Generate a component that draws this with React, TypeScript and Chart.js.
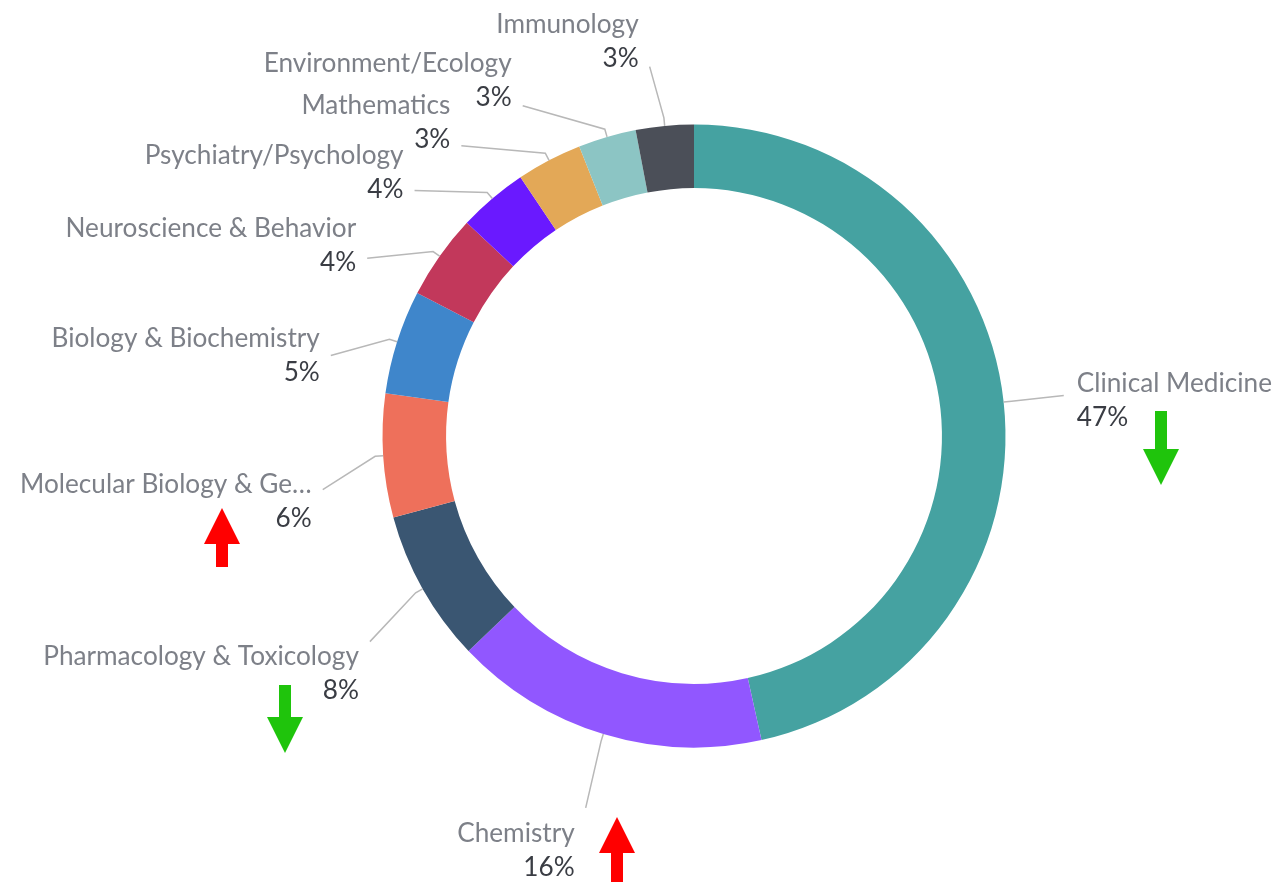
import React, { useEffect, useRef } from 'react';
import { Chart, registerables } from 'chart.js';

Chart.register(...registerables);

// ---- data ----
const categories: string[] = [
  'Clinical Medicine',
  'Chemistry',
  'Pharmacology & Toxicology',
  'Molecular Biology & Genetics',
  'Biology & Biochemistry',
  'Neuroscience & Behavior',
  'Psychiatry/Psychology',
  'Mathematics',
  'Environment/Ecology',
  'Immunology',
];
const shares: number[] = [46.5, 16.35, 7.9, 6.4, 5.4, 4.4, 3.6, 3.4, 3.0, 3.0];
const trends: (string | null)[] = ['down', 'up', 'down', 'up', null, null, null, null, null, null];

// ---- styles / layout ----
const sliceColors: string[] = [
  '#45a2a1', '#9157ff', '#3a5672', '#ee705b', '#3f86cb',
  '#c2385b', '#6a19ff', '#e3a857', '#8cc5c4', '#4b4f58',
];
const labelShiftY: number[] = [0, 16, 23, 30, 32, 37, 38, 39, 27, 1];
const nameOffsetY: number[] = [-3, 34, 23, 3, -8, -21, -26, -32, -34, -34];
const arrowLayout: ({ x: number; top: number; len: number } | null)[] = [
  { x: 1161, top: 411, len: 74 },
  { x: 617, top: 817, len: 66 },
  { x: 285, top: 685, len: 68 },
  { x: 222, top: 508, len: 59 },
  null, null, null, null, null, null,
];
const FONT_FAMILY = 'Lato, "Noto Sans", sans-serif';
const FONT_SIZE = 26.2;

const labelPlugin = {
  id: 'sliceLabels',
  afterDraw(chart: any) {
    const ctx: CanvasRenderingContext2D = chart.ctx;
    const meta = chart.getDatasetMeta(0);
    const total = shares.reduce((a, b) => a + b, 0);
    ctx.save();
    meta.data.forEach((arc: any, i: number) => {
      const p = arc.getProps(['x', 'y', 'startAngle', 'endAngle', 'outerRadius'], true);
      const cx = p.x, cy = p.y, R = p.outerRadius;
      const mid = (p.startAngle + p.endAngle) / 2;
      const cos = Math.cos(mid), sin = Math.sin(mid);
      const lr = R + 60.5;
      const side = cos >= 0 ? 1 : -1;
      const natX = cos * lr;
      const ay = cy + sin * lr + labelShiftY[i];
      const dy = ay - cy;
      const circ = Math.sqrt(Math.max(lr * lr - dy * dy, 0));
      const ax = cx + side * Math.max(Math.abs(natX), circ);

      // connector
      ctx.beginPath();
      ctx.moveTo(cx + cos * R, cy + sin * R);
      ctx.lineTo(cx + cos * (R + 8), cy + sin * (R + 8));
      ctx.lineTo(ax, ay);
      ctx.strokeStyle = '#b8b8b8';
      ctx.lineWidth = 1.5;
      ctx.stroke();

      // text
      const tx = side > 0 ? ax + 13 : ax - 11;
      ctx.textAlign = side > 0 ? 'left' : 'right';
      ctx.textBaseline = 'alphabetic';
      ctx.font = `${FONT_SIZE}px ${FONT_FAMILY}`;
      let name = categories[i];
      const maxW = side > 0 ? chart.width - tx - 1 : tx - 16;
      if (ctx.measureText(name).width > maxW) {
        while (name.length > 1 && ctx.measureText(name + '…').width > maxW) {
          name = name.slice(0, -1);
        }
        name = name.trimEnd() + '…';
      }
      const nameY = ay + nameOffsetY[i];
      ctx.fillStyle = '#7d8088';
      ctx.fillText(name, tx, nameY);
      ctx.fillStyle = '#3a3d44';
      ctx.fillText(Math.round((shares[i] / total) * 100) + '%', tx, nameY + 34);

      // trend arrow
      const t = trends[i];
      const a = arrowLayout[i];
      if (t && a) {
        const headH = 36, headW = 36, shaftW = 12;
        ctx.fillStyle = t === 'up' ? '#ff0000' : '#1fc40c';
        ctx.beginPath();
        if (t === 'down') {
          const hb = a.top + a.len - headH;
          ctx.rect(a.x - shaftW / 2, a.top, shaftW, hb - a.top + 0.5);
          ctx.moveTo(a.x - headW / 2, hb);
          ctx.lineTo(a.x + headW / 2, hb);
          ctx.lineTo(a.x, a.top + a.len);
        } else {
          const hb = a.top + headH;
          ctx.moveTo(a.x, a.top);
          ctx.lineTo(a.x + headW / 2, hb);
          ctx.lineTo(a.x - headW / 2, hb);
          ctx.closePath();
          ctx.rect(a.x - shaftW / 2, hb - 0.5, shaftW, a.top + a.len - hb + 0.5);
        }
        ctx.fill();
      }
    });
    ctx.restore();
  },
};

export default function App() {
  const ref = useRef<HTMLCanvasElement>(null);
  useEffect(() => {
    if (!ref.current) return;
    const chart = new Chart(ref.current, {
      type: 'doughnut',
      data: {
        labels: categories,
        datasets: [
          {
            data: shares,
            backgroundColor: sliceColors,
            borderWidth: 0,
            hoverBorderWidth: 0,
            hoverOffset: 0,
            offset: 0,
          },
        ],
      },
      options: {
        responsive: false,
        animation: false,
        cutout: '79.6%',
        layout: { padding: { left: 382.5, right: 273.5, top: 124.5, bottom: 134.5 } },
        plugins: {
          legend: { display: false },
          tooltip: { enabled: false },
        },
        events: [],
      },
      plugins: [labelPlugin],
    });
    return () => chart.destroy();
  }, []);
  return (
    <canvas
      ref={ref}
      width={1279}
      height={882}
      style={{ position: 'absolute', left: 0, top: 0, display: 'block', background: '#ffffff' }}
    />
  );
}
